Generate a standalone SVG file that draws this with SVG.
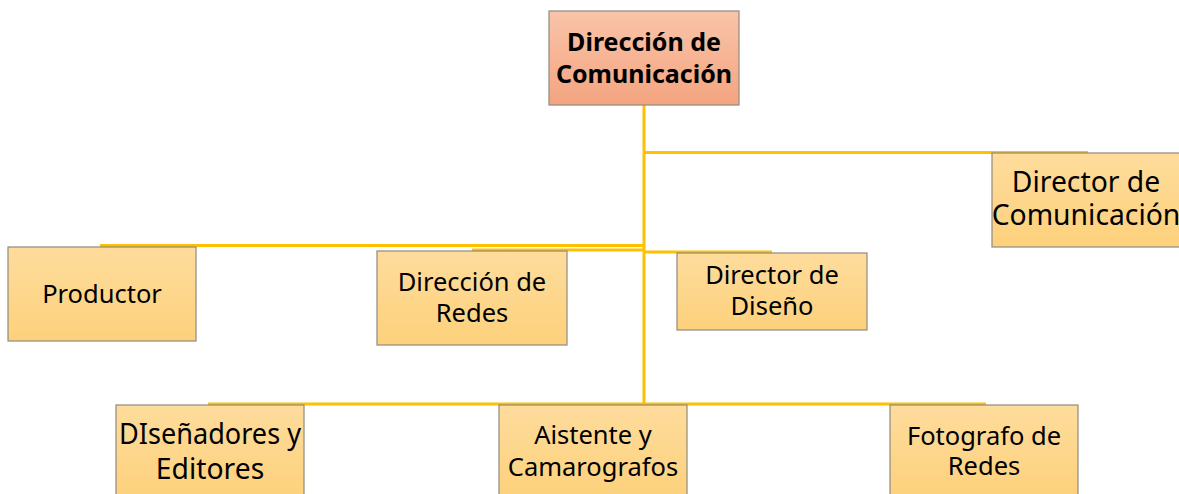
<svg xmlns="http://www.w3.org/2000/svg" width="1179" height="494" viewBox="0 0 1179 494">
<style>
.box{fill:url(#gy);stroke:#8f8a80;stroke-width:1.2}
.top{fill:url(#gr);stroke:#8f8a80;stroke-width:1.2}
.t{font-family:"Noto Sans","Liberation Sans",sans-serif;font-size:25.5px;fill:#000;text-anchor:middle}
.tl{font-size:28.3px}
.tb{font-weight:bold;font-size:25px}
.c{stroke:#ffc000;stroke-width:3;fill:none}
</style>
<defs>
<linearGradient id="gy" x1="0" y1="0" x2="0" y2="1">
<stop offset="0" stop-color="#fedc9c"/>
<stop offset="1" stop-color="#fdd17c"/>
</linearGradient>
<linearGradient id="gr" x1="0" y1="0" x2="0" y2="1">
<stop offset="0" stop-color="#f9c4a9"/>
<stop offset="1" stop-color="#f4a480"/>
</linearGradient>
</defs>
<rect width="1179" height="494" fill="#fff"/>
<g id="connectors">
<path class="c" d="M644,105 V405"/>
<path class="c" d="M644,152.5 H1088"/>
<path class="c" d="M644,245.5 H100"/>
<path class="c" d="M644,250 H472"/>
<path class="c" d="M644,252 H772"/>
<path class="c" d="M208,404 H986"/>
</g>
<g id="n-direccion-comunicacion">
<rect class="top" x="549" y="11" width="190" height="94"/>
<text class="t tb" x="644" y="51">Dirección de</text>
<text class="t tb" x="644" y="83">Comunicación</text>
</g>
<g id="n-director-comunicacion">
<rect class="box" x="992" y="153" width="192" height="94"/>
<text class="t tl" x="1086" y="192">Director de</text>
<text class="t tl" x="1086" y="225">Comunicación</text>
</g>
<g id="n-productor">
<rect class="box" x="8" y="247" width="188" height="94"/>
<text class="t" x="102" y="303">Productor</text>
</g>
<g id="n-direccion-redes">
<rect class="box" x="377" y="251" width="190" height="94"/>
<text class="t" x="472" y="291">Dirección de</text>
<text class="t" x="472" y="322">Redes</text>
</g>
<g id="n-director-diseno">
<rect class="box" x="677" y="253" width="190" height="77"/>
<text class="t" x="772" y="284">Director de</text>
<text class="t" x="772" y="315">Diseño</text>
</g>
<g id="n-disenadores">
<rect class="box" x="116" y="405" width="188" height="94"/>
<text class="t tl" x="210" y="444" textLength="182" lengthAdjust="spacingAndGlyphs">DIseñadores y</text>
<text class="t tl" x="210" y="479">Editores</text>
</g>
<g id="n-aistente">
<rect class="box" x="499" y="405" width="188" height="94"/>
<text class="t" x="593" y="444">Aistente y</text>
<text class="t" x="593" y="476">Camarografos</text>
</g>
<g id="n-fotografo">
<rect class="box" x="890" y="405" width="188" height="94"/>
<text class="t" x="984" y="445">Fotografo de</text>
<text class="t" x="984" y="475">Redes</text>
</g>
</svg>
